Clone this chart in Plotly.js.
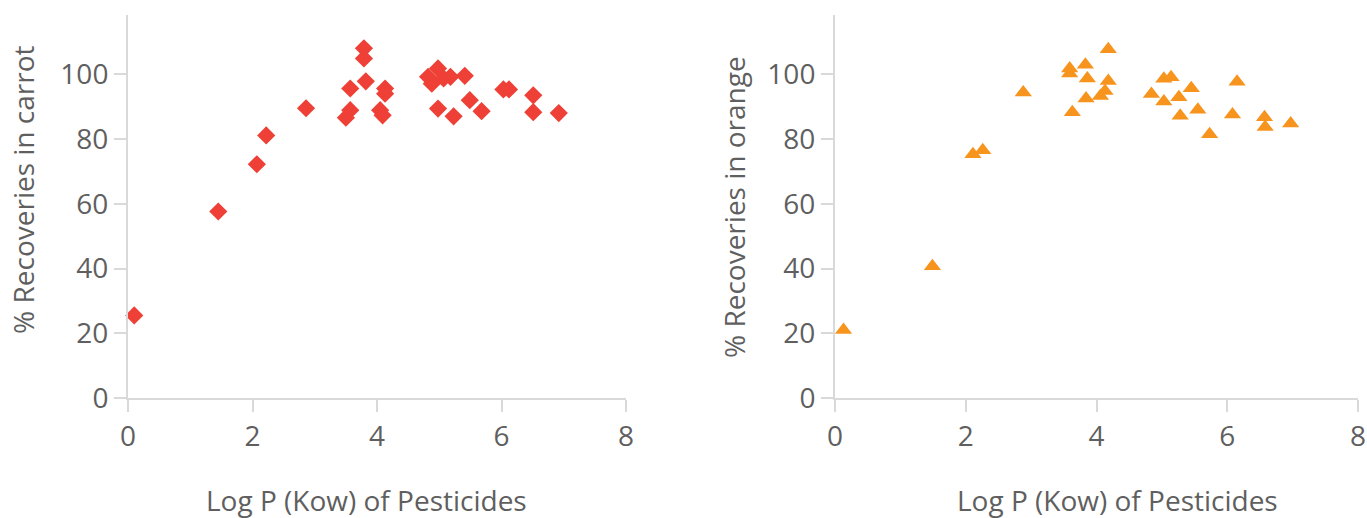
<!DOCTYPE html>
<html>
<head>
<meta charset="utf-8">
<script src="https://cdn.plot.ly/plotly-3.0.1.min.js"></script>
<style>html,body{margin:0;padding:0;background:#fff;}#chart{width:1367px;height:518px;}</style>
</head>
<body>
<div id="chart"></div>
<script>
// Carrot recoveries vs Log P (Kow)
const carrotLogP = [0.10, 1.45, 2.07, 2.22, 2.86, 3.50, 3.57, 3.57, 3.79, 3.79, 3.82, 4.13, 4.13, 4.05, 4.09,
  4.98, 4.82, 4.88, 5.07, 5.18, 5.41, 4.98, 5.23, 5.49, 5.68, 6.03, 6.12, 6.51, 6.51, 6.92];
const carrotRecovery = [25.5, 57.6, 72.2, 81.1, 89.5, 86.6, 88.9, 95.6, 108.0, 104.9, 97.8, 95.6, 94.0, 88.9, 87.3,
  101.8, 99.2, 97.1, 98.7, 99.2, 99.5, 89.4, 87.0, 92.0, 88.6, 95.3, 95.3, 93.5, 88.3, 88.0];

// Orange recoveries vs Log P (Kow)
const orangeLogP = [0.13, 1.49, 2.11, 2.26, 2.88, 3.59, 3.59, 3.83, 3.86, 3.84, 3.63, 4.18, 4.18, 4.13, 4.06,
  5.03, 5.14, 5.45, 4.84, 5.03, 5.26, 5.28, 5.55, 5.73, 6.15, 6.08, 6.57, 6.58, 6.97];
const orangeRecovery = [21.0, 40.7, 75.3, 76.5, 94.4, 101.8, 100.2, 102.9, 98.7, 92.5, 88.3, 107.7, 97.9, 94.8, 93.3,
  98.6, 99.1, 95.7, 93.9, 91.6, 92.9, 87.2, 89.0, 81.5, 97.7, 87.6, 86.7, 83.7, 84.8];

const xTitle = "Log P (Kow) of Pesticides";
const yTitleCarrot = "% Recoveries in carrot";
const yTitleOrange = "% Recoveries in orange";

const FONT = "'Open Sans', Lato, sans-serif";
const GREY = "#5f5f5f";
const LINE = "#d9d9d9";

const traces = [
  {x: carrotLogP, y: carrotRecovery, type: "scatter", mode: "markers", xaxis: "x", yaxis: "y",
   marker: {symbol: "diamond", size: 14, color: "#EE4036"}, cliponaxis: false, name: "carrot"},
  {x: orangeLogP, y: orangeRecovery, type: "scatter", mode: "markers", xaxis: "x2", yaxis: "y2",
   marker: {symbol: "triangle-up", size: 15, color: "#F7941D"}, cliponaxis: false, name: "orange"}
];

function xa(domain, anchor) {
  return {domain: domain, anchor: anchor, range: [0, 8], dtick: 2, showgrid: false, zeroline: false,
    showline: true, linecolor: LINE, linewidth: 2, ticks: "outside", ticklen: 12, tickwidth: 2, tickcolor: LINE,
    tickfont: {family: FONT, size: 28, color: GREY}, fixedrange: true};
}
function ya(anchor) {
  return {anchor: anchor, range: [0, 118.3], dtick: 20, showgrid: false, zeroline: false,
    showline: true, linecolor: LINE, linewidth: 2, ticks: "outside", ticklen: 12, tickwidth: 2, tickcolor: LINE,
    tickfont: {family: FONT, size: 28, color: GREY}, fixedrange: true};
}

const titleFont = {family: FONT, size: 28, color: GREY};
function title(text, x, y, angle) {
  return {text: text, xref: "paper", yref: "paper", x: x, y: y, xanchor: "center", yanchor: "middle",
    showarrow: false, textangle: angle, font: titleFont};
}

const layout = {
  width: 1367, height: 518,
  margin: {l: 128, r: 9, t: 15, b: 120},
  paper_bgcolor: "#fff", plot_bgcolor: "#fff",
  showlegend: false,
  xaxis: xa([0, 0.4049], "y"),
  yaxis: ya("x"),
  xaxis2: xa([0.5748, 1], "y2"),
  yaxis2: ya("x2"),
  annotations: [
    title(xTitle, 0.1943, -0.2663, 0),
    title(xTitle, 0.8041, -0.2663, 0),
    title(yTitleCarrot, -0.0854, 0.5431, -90),
    title(yTitleOrange, 0.4927, 0.4987, -90)
  ]
};

Plotly.newPlot("chart", traces, layout, {displayModeBar: false, staticPlot: true});
</script>
</body>
</html>
